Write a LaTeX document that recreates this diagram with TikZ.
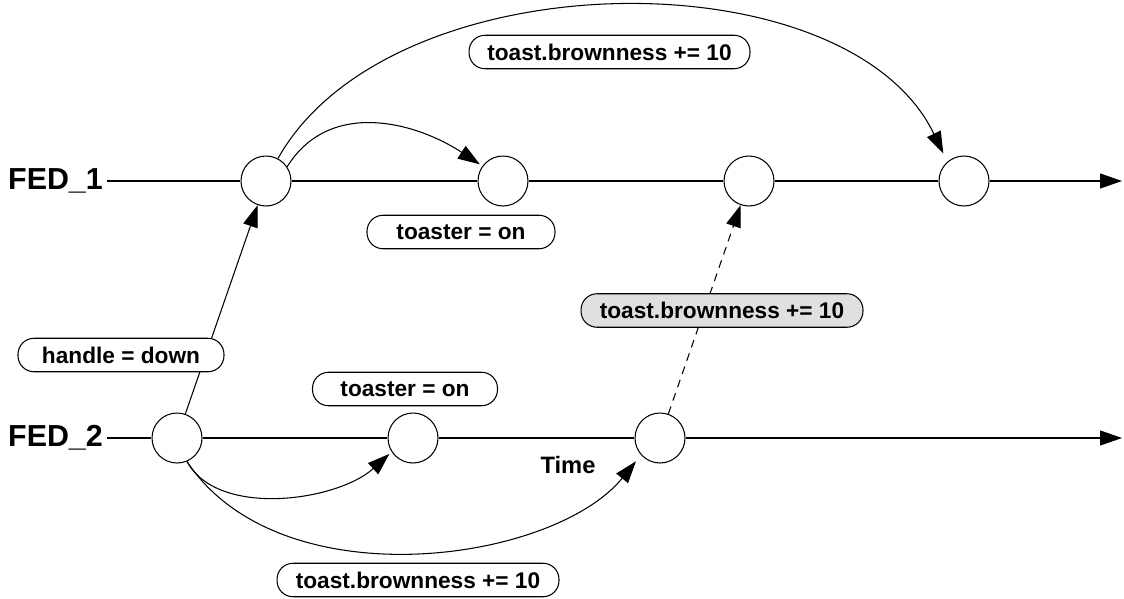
\documentclass[tikz,border=0pt]{standalone}
\usepackage{fontspec}
\setmainfont{Liberation Sans}
\usetikzlibrary{arrows.meta}
\begin{document}
\begin{tikzpicture}[x=0.02cm,y=-0.02cm,line width=0.6pt,
  state/.style={circle,draw,fill=white,minimum size=1cm,inner sep=0pt},
  lbl/.style={draw,rounded corners=0.32cm,fill=white,minimum height=0.67cm,inner sep=0pt,
    font=\fontsize{12.9}{15}\selectfont\bfseries},
  fed/.style={font=\fontsize{17.3}{20}\selectfont\bfseries,inner sep=2pt},
  arr/.style={-{Triangle[length=0.44cm,width=0.3cm]}}]
\useasboundingbox (0,0) rectangle (1124,598);
% timelines
\node[fed] (f1) at (55.5,181) {FED\_1};
\node[fed] (f2) at (55.5,438) {FED\_2};
\coordinate (e1) at (1122,181);
\coordinate (e2) at (1122,438);
\node[state] (c11) at (266,181) {};
\node[state] (c12) at (503,181) {};
\node[state] (c13) at (749,181) {};
\node[state] (c14) at (964,181) {};
\node[state] (c21) at (177,438) {};
\node[state] (c22) at (413,438) {};
\node[state] (c23) at (660,438) {};
\foreach \a/\b in {f1/c11,c11/c12,c12/c13,c13/c14,f2/c21,c21/c22,c22/c23}
  \draw (\a) -- (\b);
\draw[arr] (c14) -- (e1);
\draw[arr] (c23) -- (e2);
% connectors
\draw[arr] (c21) -- (c11);
\draw[arr,dash pattern=on 4.5pt off 3.5pt] (c23) -- (c13);
\draw[arr,shorten >=0.06cm] (c11.34) .. controls +(43,-69) and +(-65,-43) .. (c12.144);
\draw[arr,shorten >=0.18cm] (c11.62) .. controls +(112,-200) and +(-100,-208) .. (c14.131);
\draw[arr,shorten >=0.06cm] (c21.-67) .. controls +(31,57) and +(-54,49) .. (c22.213);
\draw[arr,shorten >=0.16cm] (c21.-67) .. controls +(93,140) and +(-88,108) .. (c23.222);
% labels
\node[lbl,minimum width=5.62cm] (ltop) at (609.5,52) {toast.brownness += 10};
\node[lbl,minimum width=3.76cm] (lt1) at (461,232) {toaster = on\hspace{0.4cm}};
\node[lbl,minimum width=4.12cm] (lh) at (121,355) {handle = down};
\node[lbl,minimum width=3.70cm] (lt2) at (405,389) {toaster = on\hspace{0.2cm}};
\node[lbl,minimum width=5.64cm,fill={rgb,255:red,224;green,224;blue,224}] (lg) at (722,310.5) {toast.brownness += 10};
\node[lbl,minimum width=5.64cm] (lb) at (418,580) {toast.brownness += 10};
\node[font=\fontsize{13.5}{16}\selectfont\bfseries,inner sep=0pt] (time) at (568,465) {Time};
\end{tikzpicture}
\end{document}
